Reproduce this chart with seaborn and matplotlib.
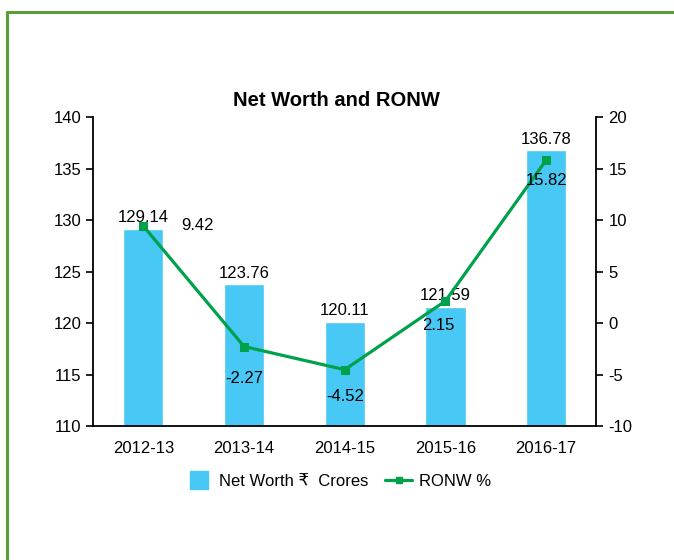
import numpy as np
import pandas as pd
import seaborn as sns
import matplotlib.pyplot as plt
from matplotlib.lines import Line2D

years = ['2012-13', '2013-14', '2014-15', '2015-16', '2016-17']
net_worth = [129.14, 123.76, 120.11, 121.59, 136.78]
ronw = [9.42, -2.27, -4.52, 2.15, 15.82]

sns.set_style('white')
plt.rcParams['font.family'] = ['Liberation Sans', 'DejaVu Sans']
plt.rcParams['text.color'] = 'black'
plt.rcParams['xtick.color'] = 'black'
plt.rcParams['ytick.color'] = 'black'
plt.rcParams['axes.unicode_minus'] = False

bar_color = '#47C8F5'
line_color = '#00A14B'
fs = 12

df = pd.DataFrame({'Year': years, 'NetWorth': net_worth, 'RONW': ronw})

fig = plt.figure(figsize=(6.74, 5.6), dpi=100)
ax = fig.add_axes([0.138, 0.239, 0.747, 0.552])

sns.barplot(data=df, x='Year', y='NetWorth', color=bar_color, width=0.4,
            saturation=1, ax=ax)
ax.set_ylim(110, 140)
ax.set_yticks(range(110, 141, 5))
ax.set_xlim(-0.5, 4.5)
ax.set_xlabel('')
ax.set_ylabel('')
ax.set_xticks(range(5))
ax.set_xticklabels(years, fontsize=fs)
ax.tick_params(axis='x', length=0, pad=11)
ax.set_xticks(np.arange(-0.5, 5, 1), minor=True)
ax.tick_params(axis='x', which='minor', direction='out', length=5, width=1.2, color='black')
ax.tick_params(axis='y', direction='out', length=5, width=1.2, color='black', labelsize=fs, left=True)
for s in ['top', 'right']:
    ax.spines[s].set_visible(False)
for s in ['left', 'bottom']:
    ax.spines[s].set_color('black')
    ax.spines[s].set_linewidth(1.3)

for i, v in enumerate(net_worth):
    ax.text(i, v + 0.35, f'{v:.2f}', ha='center', va='bottom', fontsize=fs)

ax2 = ax.twinx()
sns.lineplot(x=list(range(5)), y=ronw, ax=ax2, color=line_color, linewidth=2.3,
             marker='s', markersize=5.5, markeredgecolor=line_color)
ax2.set_ylim(-10, 20)
ax2.set_yticks(range(-10, 21, 5))
ax2.tick_params(axis='y', direction='out', length=5, width=1.2, color='black', labelsize=fs, right=True)
for s in ['top', 'left', 'bottom']:
    ax2.spines[s].set_visible(False)
ax2.spines['right'].set_color('black')
ax2.spines['right'].set_linewidth(1.3)

label_offsets = [(0.54, 0.1), (0.0, -3.1), (0.0, -2.6), (-0.07, -2.4), (0.0, -2.0)]
for i, v in enumerate(ronw):
    dx, dy = label_offsets[i]
    ax2.text(i + dx, v + dy, f'{v:.2f}', ha='center', va='center', fontsize=fs)

fig.text(336 / 674, 1 - 100 / 560, 'Net Worth and RONW', fontsize=14.5, fontweight='bold',
         ha='center', va='center')

handles = [Line2D([], [], color=bar_color, marker='s', markersize=12.5, linestyle='none'),
           Line2D([], [], color=line_color, linewidth=2.3, marker='s', markersize=5)]
fig.legend(handles, ['Net Worth \u20b9  Crores', 'RONW %'], loc='center',
           bbox_to_anchor=(0.502, 0.141), ncol=2, frameon=False, fontsize=fs,
           handlelength=1.6, columnspacing=1.0, handletextpad=0.4)

border = '#5A9E3A'
fig.add_artist(Line2D([7 / 674, 7 / 674], [0, 1 - 12 / 560], color=border, linewidth=2.2,
                      transform=fig.transFigure))
fig.add_artist(Line2D([7 / 674, 1], [1 - 12 / 560, 1 - 12 / 560], color=border, linewidth=2.2,
                      transform=fig.transFigure))

fig.savefig('out.png', dpi=100)
